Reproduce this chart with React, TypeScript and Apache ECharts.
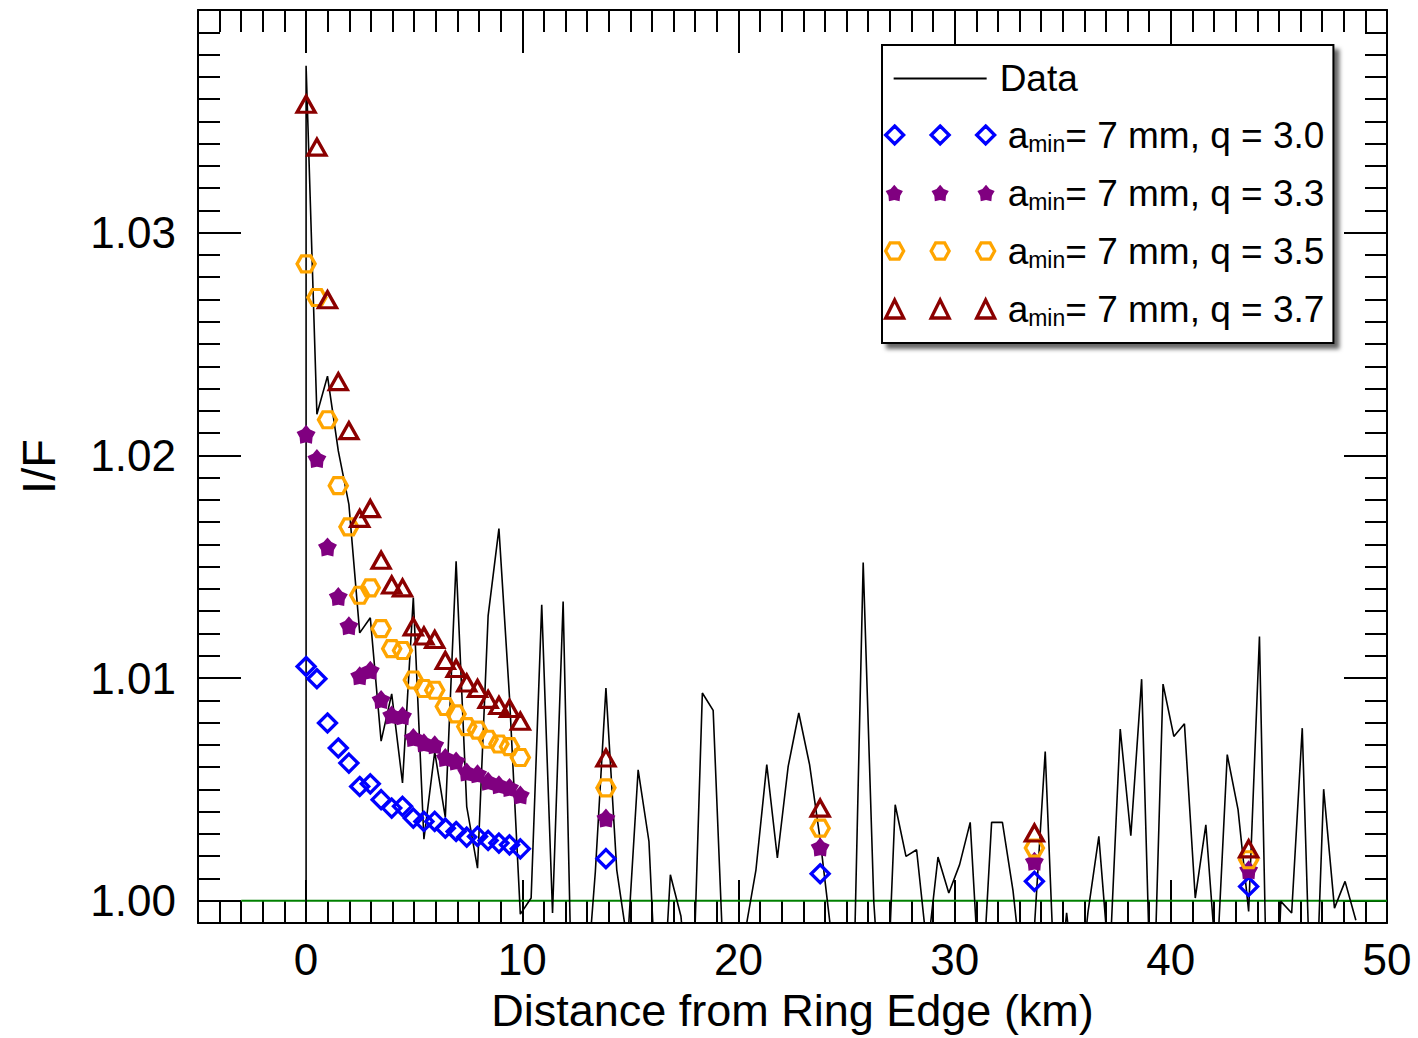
import React, { useEffect, useRef } from 'react';
import * as echarts from 'echarts';

// ---------- data ----------
// Observed profile (km from ring edge, I/F). The first point is the off-scale drop at the edge.
const observedDistance = [
  0, 0, 0.5, 0.99, 1.49, 1.98, 2.48, 2.97, 3.47, 3.96, 4.46, 4.96, 5.45, 5.95, 6.44, 6.94, 7.43, 7.93, 8.42, 8.92,
  9.41, 9.91, 10.41, 10.9, 11.4, 11.89, 12.39, 12.88, 13.38, 13.87, 14.37, 14.87, 15.36, 15.86, 16.35, 16.85, 17.34,
  17.84, 18.33, 18.83, 19.32, 19.82, 20.32, 20.81, 21.31, 21.8, 22.3, 22.79, 23.29, 23.78, 24.28, 24.78, 25.27, 25.77,
  26.26, 26.76, 27.25, 27.75, 28.24, 28.74, 29.23, 29.73, 30.23, 30.72, 31.22, 31.71, 32.21, 32.7, 33.2, 33.69, 34.19,
  34.69, 35.18, 35.68, 36.17, 36.67, 37.16, 37.66, 38.15, 38.65, 39.14, 39.64, 40.14, 40.63, 41.13, 41.62, 42.12,
  42.61, 43.11, 43.6, 44.1, 44.6, 45.09, 45.59, 46.08, 46.58, 47.07, 47.57, 48.06, 48.56,
];
const observedIF = [
  0.985, 1.0375, 1.02185, 1.02356, 1.0202, 1.0178, 1.01203, 1.01271, 1.00717, 1.00929, 1.00529, 1.01361, 1.00276,
  1.00668, 1.00374, 1.01524, 1.00423, 1.00146, 1.01279, 1.01671, 1.00912, 0.9994, 1.00012, 1.01329, 0.99945, 1.01344,
  0.9911, 0.995, 1.0013, 1.00955, 1.00139, 0.99807, 1.00588, 1.00266, 0.9926, 1.00117, 0.9993, 0.9941, 1.00933,
  1.00855, 0.99681, 0.996, 0.99865, 1.00139, 1.00611, 1.00192, 1.00603, 1.00843, 1.00611, 1.00274, 0.9986, 0.995,
  0.9936, 1.01519, 0.99995, 0.99264, 1.00431, 1.00199, 1.00229, 0.99771, 1.00196, 1.00035, 1.00162, 1.00352, 0.99502,
  1.00352, 1.00352, 1.00045, 0.996, 0.9988, 1.0067, 0.99461, 0.99946, 0.995, 0.9995, 1.00289, 0.99696, 1.00771,
  1.00292, 1.00995, 0.99304, 1.00973, 1.00738, 1.00795, 1.00012, 1.00341, 0.9969, 1.00656, 1.00409, 0.99952, 1.01187,
  0.988, 0.99997, 0.99945, 1.00775, 0.99171, 1.00501, 0.99967, 1.00087, 0.99912,
];

// Model profiles (a_min = 7 mm)
const modelDistance = [
  0, 0.5, 0.99, 1.49, 1.98, 2.48, 2.97, 3.47, 3.96, 4.46, 4.96, 5.45, 5.95, 6.44, 6.94, 7.43, 7.93, 8.42, 8.92, 9.41,
  9.91, 13.87, 23.78, 33.69, 43.6,
];
const modelQ30 = [
  1.01052, 1.00997, 1.00798, 1.00686, 1.00618, 1.00513, 1.00525, 1.00454, 1.00416, 1.00424, 1.00371, 1.00356, 1.00356,
  1.00326, 1.00311, 1.00286, 1.00289, 1.00271, 1.00259, 1.00251, 1.00233, 1.00189, 1.00121, 1.00087, 1.00064,
];
const modelQ33 = [
  1.02095, 1.01986, 1.01589, 1.01366, 1.01235, 1.0101, 1.01035, 1.00904, 1.00834, 1.00831, 1.00733, 1.00709, 1.007,
  1.00643, 1.00627, 1.00578, 1.0057, 1.00537, 1.00521, 1.00508, 1.00475, 1.00371, 1.00241, 1.00177, 1.00139,
];
const modelQ35 = [
  1.0286, 1.02709, 1.0216, 1.01864, 1.01679, 1.01372, 1.01405, 1.01222, 1.01132, 1.01124, 1.00991, 1.00953, 1.00945,
  1.00872, 1.00839, 1.00782, 1.00766, 1.00725, 1.00704, 1.00692, 1.00643, 1.00507, 1.00326, 1.00237, 1.00184,
];
const modelQ37 = [
  1.03577, 1.03384, 1.02699, 1.02331, 1.02111, 1.01717, 1.01761, 1.01529, 1.01418, 1.01405, 1.0123, 1.01189, 1.01173,
  1.01079, 1.01043, 1.00978, 1.00953, 1.00904, 1.00877, 1.00863, 1.00806, 1.00641, 1.00416, 1.00304, 1.00233,
];

// Unity reference line
const unityDistance = [-3, 50];
const unityIF = [1.0, 1.0];

// Axes
const xMajorTicks = [0, 10, 20, 30, 40, 50];
const yMajorTicks = [1.0, 1.01, 1.02, 1.03];
const X_MIN = -5;
const X_MAX = 50;
const Y_MIN = 0.999;
const Y_MAX = 1.04;

const legendNames = ['Data', 'amin= 7 mm, q = 3.0', 'amin= 7 mm, q = 3.3', 'amin= 7 mm, q = 3.5', 'amin= 7 mm, q = 3.7'];

// ---------- styling ----------
const AXIS_FONT = "'Liberation Sans', Arial, sans-serif";
const LEGEND_FONT = "'Liberation Sans', Arial, sans-serif";
const BLACK = '#000000';
const BLUE = '#0000ff';
const PURPLE = '#800080';
const ORANGE = '#ffa500';
const DARKRED = '#8b0000';
const CLEAR = 'rgba(0,0,0,0)';
const STROKE = 3.3;

type Pt = [number, number];
const DIAMOND: Pt[] = [[0, -1], [1, 0], [0, 1], [-1, 0]];
const TRIANGLE: Pt[] = [[0, -1], [1, 1], [-1, 1]];
const HEXAGON: Pt[] = [[-1, 0], [-0.5, -0.9], [0.5, -0.9], [1, 0], [0.5, 0.9], [-0.5, 0.9]];
const STAR: Pt[] = [
  [0, -1], [0.4, -0.55], [0.951, -0.309], [0.647, 0.21], [0.588, 0.809],
  [0, 0.68], [-0.588, 0.809], [-0.647, 0.21], [-0.951, -0.309], [-0.4, -0.55],
];

function poly(points: Pt[], cx: number, cy: number, r: number): string {
  return (
    points
      .map((p, i) => `${i === 0 ? 'M' : 'L'}${(cx + p[0] * r).toFixed(2)},${(cy + p[1] * r).toFixed(2)}`)
      .join(' ') + ' Z'
  );
}
const symbolPath = (points: Pt[]) => 'path://' + poly(points, 10, 10, 10);
const tripleIcon = (points: Pt[]) => 'path://' + [9, 54.5, 100].map((cx) => poly(points, cx, 9, 9)).join(' ');
const lineIcon = 'path://M0,0 M8,8 L101,8 L101,10 L8,10 Z M109,18';

const tickLine = { color: BLACK, width: 2 };
const AXIS_FS = 44;

function majorX(position: 'bottom' | 'top', withLabels: boolean) {
  return {
    type: 'value',
    position,
    min: X_MIN,
    max: X_MAX,
    axisLine: { show: true, onZero: false, lineStyle: { color: BLACK, width: 2 } },
    axisTick: { show: true, inside: true, length: 43, customValues: xMajorTicks, lineStyle: tickLine },
    axisLabel: {
      show: withLabels,
      customValues: xMajorTicks,
      margin: 14,
      fontSize: AXIS_FS,
      fontFamily: AXIS_FONT,
      color: BLACK,
    },
    splitLine: { show: false },
  };
}
function minorX(position: 'bottom' | 'top') {
  return {
    type: 'value',
    position,
    min: X_MIN,
    max: X_MAX,
    interval: 1,
    axisLine: { show: false, onZero: false },
    axisTick: { show: true, inside: true, length: 22, lineStyle: tickLine },
    axisLabel: { show: false },
    splitLine: { show: false },
  };
}
function majorY(position: 'left' | 'right', withLabels: boolean) {
  return {
    type: 'value',
    position,
    min: Y_MIN,
    max: Y_MAX,
    axisLine: { show: true, onZero: false, lineStyle: { color: BLACK, width: 2 } },
    axisTick: { show: true, inside: true, length: 43, customValues: yMajorTicks, lineStyle: tickLine },
    axisLabel: {
      show: withLabels,
      customValues: yMajorTicks,
      formatter: (v: number) => v.toFixed(2),
      margin: 22,
      fontSize: AXIS_FS,
      fontFamily: AXIS_FONT,
      color: BLACK,
    },
    splitLine: { show: false },
  };
}
function minorY(position: 'left' | 'right') {
  return {
    type: 'value',
    position,
    min: Y_MIN,
    max: Y_MAX,
    interval: 0.001,
    axisLine: { show: false, onZero: false },
    axisTick: { show: true, inside: true, length: 22, lineStyle: tickLine },
    axisLabel: { show: false },
    splitLine: { show: false },
  };
}

function modelSeries(name: string, values: number[], shape: Pt[], size: number[], color: string, filled: boolean) {
  return {
    type: 'scatter',
    name,
    data: modelDistance.map((d, i) => [d, values[i]]),
    symbol: symbolPath(shape),
    symbolSize: size,
    itemStyle: filled
      ? { color, borderWidth: 0, opacity: 1 }
      : { color: CLEAR, borderColor: color, borderWidth: STROKE, opacity: 1 },
    z: 5,
    silent: true,
  };
}

export default function App() {
  const ref = useRef<HTMLDivElement>(null);

  useEffect(() => {
    if (!ref.current) return;
    const chart = echarts.init(ref.current, undefined, { renderer: 'svg' });

    const xAxes: any[] = [majorX('bottom', true), minorX('bottom'), majorX('top', false), minorX('top')];
    xAxes[0] = {
      ...xAxes[0],
      name: 'Distance from Ring Edge (km)',
      nameLocation: 'middle',
      nameGap: 65,
      nameTextStyle: { fontSize: 45, fontFamily: AXIS_FONT, color: BLACK },
    };
    const yAxes: any[] = [majorY('left', true), minorY('left'), majorY('right', false), minorY('right')];
    yAxes[0] = {
      ...yAxes[0],
      name: 'I/F',
      nameLocation: 'middle',
      nameGap: 136,
      nameTextStyle: { fontSize: 47, fontFamily: AXIS_FONT, color: BLACK },
    };

    const legendStyles: any[] = [
      { icon: lineIcon, itemStyle: { color: BLACK, borderWidth: 0, opacity: 1 } },
      { icon: tripleIcon(DIAMOND), itemStyle: { color: CLEAR, borderColor: BLUE, borderWidth: STROKE, opacity: 1 } },
      { icon: tripleIcon(STAR), itemStyle: { color: PURPLE, borderWidth: 0, opacity: 1 } },
      { icon: tripleIcon(HEXAGON), itemStyle: { color: CLEAR, borderColor: ORANGE, borderWidth: STROKE, opacity: 1 } },
      { icon: tripleIcon(TRIANGLE), itemStyle: { color: CLEAR, borderColor: DARKRED, borderWidth: STROKE, opacity: 1 } },
    ];

    chart.setOption({
      animation: false,
      backgroundColor: '#ffffff',
      grid: { left: 198, right: 31, top: 10, bottom: 115, containLabel: false, outerBoundsMode: 'none' },
      xAxis: xAxes,
      yAxis: yAxes,
      legend: {
        orient: 'vertical',
        left: 882,
        top: 45,
        selectedMode: false,
        backgroundColor: '#ffffff',
        borderColor: BLACK,
        borderWidth: 2,
        borderRadius: 0,
        shadowColor: 'rgba(0,0,0,0.6)',
        shadowBlur: 4,
        shadowOffsetX: 5,
        shadowOffsetY: 5,
        padding: [15, 9, 14, 2],
        itemGap: 5,
        itemWidth: 109,
        itemHeight: 18,
        data: legendNames.map((n, i) => ({ name: n, ...legendStyles[i] })),
        formatter: (name: string) =>
          name.startsWith('amin') ? `{a|a}{s|min}{t|${name.slice(4)}}` : `{d|${name}}`,
        textStyle: {
          color: BLACK,
          fontFamily: LEGEND_FONT,
          fontSize: 37,
          rich: {
            d: { fontSize: 37, fontFamily: LEGEND_FONT, color: BLACK, lineHeight: 44 },
            a: { fontSize: 37, fontFamily: LEGEND_FONT, color: BLACK, lineHeight: 40, padding: [0, 0, 0, 8] },
            t: { fontSize: 37, fontFamily: LEGEND_FONT, color: BLACK, lineHeight: 40 },
            s: {
              fontSize: 23,
              fontFamily: LEGEND_FONT,
              color: BLACK,
              lineHeight: 23,
              verticalAlign: 'bottom',
              padding: [30, 0, 0, 0],
            },
          },
        },
      },
      series: [
        {
          type: 'line',
          name: 'unity',
          data: unityDistance.map((d, i) => [d, unityIF[i]]),
          symbol: 'none',
          showSymbol: false,
          lineStyle: { color: '#008000', width: 2 },
          itemStyle: { color: '#008000' },
          z: 2,
          silent: true,
        },
        {
          type: 'line',
          name: 'Data',
          data: observedDistance.map((d, i) => [d, observedIF[i]]),
          symbol: 'none',
          showSymbol: false,
          clip: true,
          lineStyle: { color: BLACK, width: 1.6 },
          itemStyle: { color: BLACK },
          z: 3,
          silent: true,
        },
        modelSeries(legendNames[1], modelQ30, DIAMOND, [18, 18], BLUE, false),
        modelSeries(legendNames[2], modelQ33, STAR, [19, 19], PURPLE, true),
        modelSeries(legendNames[3], modelQ35, HEXAGON, [18, 16], ORANGE, false),
        modelSeries(legendNames[4], modelQ37, TRIANGLE, [18, 16], DARKRED, false),
      ],
    });

    return () => {
      chart.dispose();
    };
  }, []);

  return (
    <div
      ref={ref}
      style={{ position: 'absolute', left: 0, top: 0, width: 1418, height: 1038, background: '#ffffff' }}
    />
  );
}
